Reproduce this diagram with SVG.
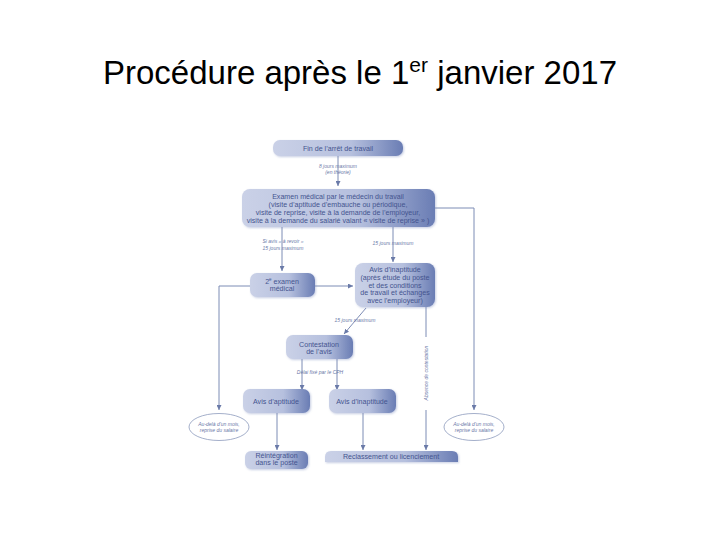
<svg xmlns="http://www.w3.org/2000/svg" width="720" height="540" viewBox="0 0 720 540">
<defs>
<linearGradient id="g" x1="0" y1="0" x2="1" y2="0">
<stop offset="0" stop-color="#cad1e7"/>
<stop offset="0.6" stop-color="#b6c0de"/>
<stop offset="1" stop-color="#6a7db4"/>
</linearGradient>
<filter id="sh" x="-10%" y="-30%" width="120%" height="160%">
<feGaussianBlur in="SourceAlpha" stdDeviation="1.2"/>
<feOffset dx="0.5" dy="1" result="b"/>
<feFlood flood-color="#8090c0" flood-opacity="0.45"/>
<feComposite in2="b" operator="in"/>
<feMerge><feMergeNode/><feMergeNode in="SourceGraphic"/></feMerge>
</filter>
<marker id="ar" viewBox="0 0 10 10" refX="10" refY="5" markerWidth="5" markerHeight="5" orient="auto" markerUnits="userSpaceOnUse">
<path d="M0,0 L10,5 L0,10 z" fill="#6a7aa8"/>
</marker>
</defs>
<style>
.box{fill:url(#g);filter:url(#sh)}
.t{font-family:"Liberation Sans",Arial,sans-serif;font-size:7.1px;fill:#44548f;text-anchor:middle}
.l{font-family:"Liberation Sans",Arial,sans-serif;font-size:5px;font-style:italic;fill:#6a78a8;text-anchor:middle}
.c{fill:none;stroke:#7d8cb5;stroke-width:1}
.e{fill:#ffffff;stroke:#8d9abd;stroke-width:0.8}
.title{font-family:"Liberation Sans",Arial,sans-serif;font-size:33px;fill:#000}
</style>
<rect width="720" height="540" fill="#ffffff"/>
<text class="title" x="360" y="84" text-anchor="middle">Procédure après le 1<tspan font-size="21" dy="-12">er</tspan><tspan dy="12"> janvier 2017</tspan></text>

<g id="connectors">
<path class="c" d="M338,156 V186" marker-end="url(#ar)"/>
<path class="c" d="M282,227 V271" marker-end="url(#ar)"/>
<path class="c" d="M393,227 V262" marker-end="url(#ar)"/>
<path class="c" d="M435,208 H474 V410" marker-end="url(#ar)"/>
<path class="c" d="M315,286 H353" marker-end="url(#ar)"/>
<path class="c" d="M250,286 H219 V410" marker-end="url(#ar)"/>
<path class="c" d="M366,308 L344,334" marker-end="url(#ar)"/>
<path class="c" d="M426,307 V337"/>
<path class="c" d="M426,410 V450" marker-end="url(#ar)"/>
<path class="c" d="M302,359 V390" marker-end="url(#ar)"/>
<path class="c" d="M337,359 V390" marker-end="url(#ar)"/>
<path class="c" d="M277,413 V450" marker-end="url(#ar)"/>
<path class="c" d="M363,413 V450" marker-end="url(#ar)"/>
<text class="l" x="338" y="168">8 jours maximum</text>
<text class="l" x="338" y="174">(en théorie)</text>
<text class="l" x="283" y="243">Si avis « à revoir »</text>
<text class="l" x="283" y="250">15 jours maximum</text>
<text class="l" x="393" y="245">15 jours maximum</text>
<text class="l" x="355" y="322">15 jours maximum</text>
<text class="l" x="320" y="374">Délai fixé par le CPH</text>
<text class="l" transform="translate(427.5,373) rotate(-90)">Absence de contestation</text>
</g>

<g id="n-fin">
<rect class="box" x="273" y="140" width="130" height="16" rx="7"/>
<text class="t" x="338" y="150.5">Fin de l’arrêt de travail</text>
</g>
<g id="n-examen">
<rect class="box" x="242" y="189" width="193" height="38" rx="8"/>
<text class="t" x="338" y="198.5">Examen médical par le médecin du travail</text>
<text class="t" x="338" y="206.5">(visite d’aptitude d’embauche ou périodique,</text>
<text class="t" x="338" y="214.5">visite de reprise, visite à la demande de l’employeur,</text>
<text class="t" x="338" y="222.5">visite à la demande du salarié valant « visite de reprise » )</text>
</g>
<g id="n-2e">
<rect class="box" x="250" y="273" width="65" height="24" rx="7"/>
<text class="t" x="282" y="283.5">2<tspan font-size="4.5" dy="-2.5">e</tspan><tspan dy="2.5"> examen</tspan></text>
<text class="t" x="282" y="291">médical</text>
</g>
<g id="n-inapt1">
<rect class="box" x="355" y="263" width="80" height="44" rx="8"/>
<text class="t" x="395" y="272">Avis d’inaptitude</text>
<text class="t" x="395" y="279.8">(après étude du poste</text>
<text class="t" x="395" y="287.5">et des conditions</text>
<text class="t" x="395" y="295.2">de travail et échanges</text>
<text class="t" x="395" y="303">avec l’employeur)</text>
</g>
<g id="n-contest">
<rect class="box" x="286" y="335" width="67" height="24" rx="7"/>
<text class="t" x="319" y="346.5">Contestation</text>
<text class="t" x="319" y="353.5">de l’avis</text>
</g>
<g id="n-apt">
<rect class="box" x="243" y="389" width="67" height="24" rx="7"/>
<text class="t" x="276" y="404">Avis d’aptitude</text>
</g>
<g id="n-inapt2">
<rect class="box" x="329" y="389" width="67" height="24" rx="7"/>
<text class="t" x="362" y="404">Avis d’inaptitude</text>
</g>
<g id="n-ell-left">
<ellipse class="e" cx="219" cy="427" rx="30" ry="13.5"/>
<text class="l" x="219" y="425.5">Au-delà d’un mois,</text>
<text class="l" x="219" y="432">reprise du salaire</text>
</g>
<g id="n-ell-right">
<ellipse class="e" cx="474" cy="427" rx="30" ry="13.5"/>
<text class="l" x="474" y="425.5">Au-delà d’un mois,</text>
<text class="l" x="474" y="432">reprise du salaire</text>
</g>
<g id="n-reint">
<rect class="box" x="245" y="451" width="63" height="18" rx="6"/>
<text class="t" x="276.5" y="457.5">Réintégration</text>
<text class="t" x="276.5" y="465">dans le poste</text>
</g>
<g id="n-reclass">
<path class="box" d="M325,462 V457 Q325,451 331,451 H452 Q458,451 458,457 V462 Z"/>
<text class="t" x="391" y="459">Reclassement ou licenciement</text>
</g>
</svg>
